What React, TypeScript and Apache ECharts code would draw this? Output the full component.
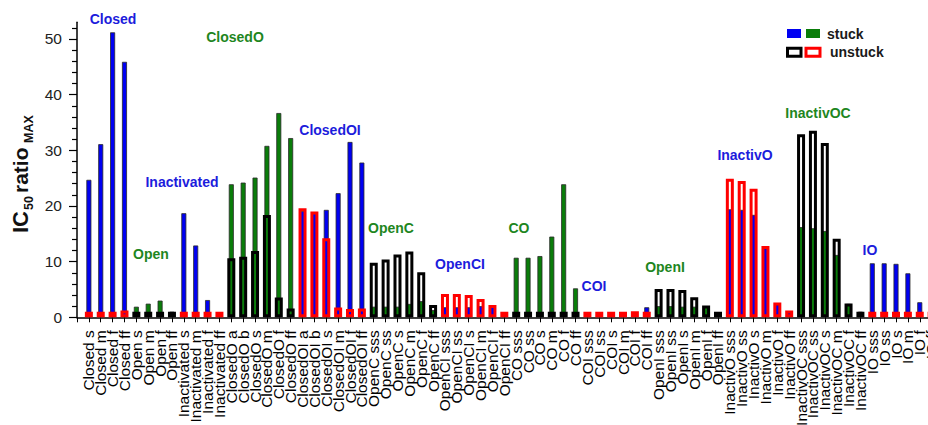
import React, { useEffect, useRef } from "react";
import * as echarts from "echarts";

// ---------- data ----------
const groups = ["Closed", "Open", "Inactivated", "ClosedO", "ClosedOI", "OpenC", "OpenCI", "CO", "COI", "OpenI", "InactivO", "InactivOC", "IO"];
const groupSuffixes = [
  ["s", "m", "f", "ff"],
  ["s", "m", "f", "ff"],
  ["s", "m", "f", "ff"],
  ["a", "b", "s", "m", "f", "ff"],
  ["a", "b", "s", "m", "f", "ff"],
  ["sss", "ss", "s", "m", "f", "ff"],
  ["sss", "ss", "s", "m", "f", "ff"],
  ["sss", "ss", "s", "m", "f", "ff"],
  ["sss", "ss", "s", "m", "f", "ff"],
  ["sss", "ss", "s", "m", "f", "ff"],
  ["sss", "ss", "s", "m", "f", "ff"],
  ["sss", "ss", "s", "m", "f", "ff"],
  ["sss", "ss", "s", "m", "f", "ff"],
];

// stuck (filled bars) per group
const stuckValues = [
  [24.7, 31.1, 51.2, 45.9],
  [1.9, 2.45, 3.0, 1.0],
  [18.7, 12.9, 3.1, 0.9],
  [23.9, 24.2, 25.1, 30.8, 36.7, 32.2],
  [19.1, 18.7, 19.3, 22.3, 31.5, 27.8],
  [1.9, 1.9, 1.9, 2.4, 2.9, 1.3],
  [1.8, 1.8, 1.8, 2.0, 1.9, 0.8],
  [10.7, 10.7, 11.0, 14.5, 23.9, 5.2],
  [0.8, 0.8, 0.8, 0.8, 0.9, 1.8],
  [2.0, 2.0, 1.9, 1.9, 2.0, 0.9],
  [19.4, 19.3, 18.4, 12.4, 2.3, 0.9],
  [16.2, 16.0, 15.5, 11.2, 2.4, 1.0],
  [9.7, 9.7, 9.6, 7.9, 2.7, 1.0],
];

// unstuck (hollow bars) per group
const unstuckValues = [
  [1.0, 1.0, 1.0, 1.2],
  [1.0, 1.0, 1.0, 1.0],
  [1.0, 1.0, 1.0, 1.0],
  [10.6, 10.9, 11.9, 18.4, 3.55, 1.6],
  [19.6, 19.0, 14.2, 1.76, 1.5, 1.6],
  [9.8, 10.4, 11.3, 11.8, 8.1, 2.2],
  [4.2, 4.2, 4.0, 3.3, 2.2, 1.0],
  [1.0, 1.0, 1.0, 1.0, 1.0, 1.0],
  [1.0, 1.0, 1.0, 1.0, 1.1, 1.0],
  [5.1, 5.1, 4.9, 3.6, 2.1, 1.0],
  [24.9, 24.5, 23.1, 12.8, 2.65, 1.2],
  [32.9, 33.5, 31.3, 14.1, 2.5, 1.0],
  [1.0, 1.0, 1.0, 1.0, 1.0, 1.0],
];

const yMajorTicks = [0, 10, 20, 30, 40, 50];
const yMinorTicks = [2, 4, 6, 8, 12, 14, 16, 18, 22, 24, 26, 28, 32, 34, 36, 38, 42, 44, 46, 48, 52];

// annotation placement (pixels)
const groupLabelPos = [
  [113, 19], [151, 254], [182, 182], [235, 37], [330, 130], [391, 228], [460, 264],
  [519, 228], [594, 286], [665, 267], [745, 155], [818, 113], [870, 250],
];

const FONT = "'Liberation Sans', Arial, Helvetica, sans-serif";
const BLUE = "#0000f2";
const GREEN = "#0a7d0a";
const RED = "#ff0000";
const BLACK = "#000000";
const LABEL_BLUE = "#1c1cdc";
const LABEL_GREEN = "#1e861e";

export default function App() {
  const ref = useRef<HTMLDivElement>(null);

  useEffect(() => {
    if (!ref.current) return;
    const chart = echarts.init(ref.current, null, { renderer: "svg" });

    const categories: string[] = [];
    const stuckData: any[] = [null];
    const unstuckData: any[] = [null];
    groups.forEach((g, gi) => {
      const blueSet = gi % 2 === 0;
      groupSuffixes[gi].forEach((suf, k) => {
        categories.push(g + " " + suf);
        stuckData.push({ value: stuckValues[gi][k], itemStyle: { color: blueSet ? BLUE : GREEN } });
        unstuckData.push({ value: unstuckValues[gi][k], itemStyle: { borderColor: blueSet ? RED : BLACK } });
      });
    });
    stuckData.push(null);
    unstuckData.push(null);
    const cats = ["", ...categories, ""];

    const groupTexts = groups.map((g, gi) => ({
      type: "text",
      x: groupLabelPos[gi][0],
      y: groupLabelPos[gi][1],
      style: {
        text: g,
        fill: gi % 2 === 0 ? LABEL_BLUE : LABEL_GREEN,
        font: `bold 14px ${FONT}`,
        align: "center",
        verticalAlign: "middle",
      },
    }));

    const legend = [
      { type: "rect", shape: { x: 787, y: 29, width: 14, height: 9 }, style: { fill: BLUE } },
      { type: "rect", shape: { x: 806, y: 29, width: 14, height: 9 }, style: { fill: GREEN } },
      { type: "rect", shape: { x: 787.5, y: 48.2, width: 13.5, height: 8 }, style: { fill: "#fff", stroke: BLACK, lineWidth: 3 } },
      { type: "rect", shape: { x: 806, y: 48.2, width: 14, height: 8 }, style: { fill: "#fff", stroke: RED, lineWidth: 3 } },
      { type: "text", x: 827, y: 34, style: { text: "stuck", fill: "#1a1a1a", font: `bold 14px ${FONT}`, verticalAlign: "middle" } },
      { type: "text", x: 830, y: 52, style: { text: "unstuck", fill: "#1a1a1a", font: `bold 14px ${FONT}`, verticalAlign: "middle" } },
    ];

    const yTitle = {
      type: "group",
      x: 0,
      y: 233,
      rotation: Math.PI / 2,
      children: [
        { type: "text", x: 0, y: 20, style: { text: "IC", fill: "#111", font: `bold 22px ${FONT}`, verticalAlign: "middle" } },
        { type: "text", x: 23, y: 29, style: { text: "50", fill: "#111", font: `bold 12.5px ${FONT}`, verticalAlign: "middle" } },
        { type: "text", x: 40, y: 20, style: { text: "ratio", fill: "#111", font: `bold 21px ${FONT}`, verticalAlign: "middle" } },
        { type: "text", x: 90, y: 29, style: { text: "MAX", fill: "#111", font: `bold 12.5px ${FONT}`, verticalAlign: "middle" } },
      ],
    };

    chart.setOption({
      animation: false,
      backgroundColor: "#ffffff",
      grid: { left: 77, top: 22.3, width: 866.5, height: 295, containLabel: false, outerBoundsMode: "none" },
      xAxis: [
        {
          type: "category",
          data: cats,
          boundaryGap: false,
          axisLine: { show: true, lineStyle: { color: BLACK, width: 1.5 } },
          axisTick: { show: true, interval: 0, length: 5, lineStyle: { color: BLACK, width: 1 } },
          axisLabel: { interval: 0, rotate: 90, fontSize: 15.5, color: "#000", margin: 13, fontFamily: FONT },
          splitLine: { show: false },
        },
        { type: "category", data: cats, boundaryGap: false, show: false },
      ],
      yAxis: [
        {
          type: "value",
          min: 0,
          max: 53,
          interval: 10,
          axisLine: { show: true, lineStyle: { color: BLACK, width: 1.5 } },
          axisTick: { show: true, length: 8, customValues: yMajorTicks, lineStyle: { color: BLACK, width: 1.2 } },
          axisLabel: { customValues: yMajorTicks, fontSize: 15.5, color: "#222", margin: 15, fontFamily: FONT },
          splitLine: { show: false },
        },
        {
          type: "value",
          min: 0,
          max: 53,
          position: "left",
          axisLine: { show: false },
          axisTick: { show: true, length: 5, customValues: yMinorTicks, lineStyle: { color: BLACK, width: 1.2 } },
          axisLabel: { show: false },
          splitLine: { show: false },
        },
      ],
      series: [
        {
          type: "bar",
          name: "stuck",
          xAxisIndex: 0,
          yAxisIndex: 0,
          barWidth: 5,
          data: stuckData,
          itemStyle: { borderColor: "#2a2a2a", borderWidth: 0.8 },
          z: 2,
        },
        {
          type: "bar",
          name: "unstuck",
          xAxisIndex: 1,
          yAxisIndex: 0,
          barWidth: 8,
          data: unstuckData,
          itemStyle: { color: "rgba(0,0,0,0)", borderWidth: 3 },
          z: 3,
        },
      ],
      graphic: [...groupTexts, ...legend, yTitle],
    });

    return () => chart.dispose();
  }, []);

  return (
    <div style={{ position: "absolute", left: 0, top: 0, width: 928, height: 425, overflow: "hidden", background: "#fff" }}>
      <div ref={ref} style={{ width: 960, height: 425 }} />
    </div>
  );
}
